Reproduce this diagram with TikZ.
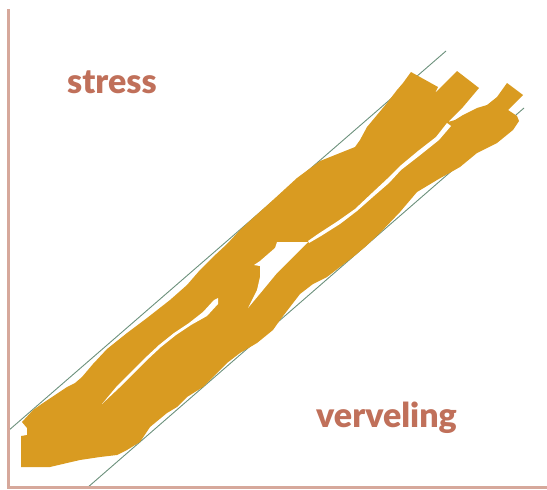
\documentclass[tikz,border=0pt]{standalone}
\usepackage{fontspec}
\setmainfont{Lato}[BoldFont={Lato Black}]
\usepackage{tikz}

\definecolor{brushgold}{RGB}{217,155,33}
\definecolor{axisrose}{RGB}{214,168,155}
\definecolor{channelgreen}{RGB}{108,145,124}
\definecolor{labelred}{RGB}{192,112,90}

\begin{document}
\begin{tikzpicture}[x=1pt,y=-1pt]

  \tikzset{axis/.style = {draw=axisrose,line width=3pt}}
  \tikzset{bound/.style = {draw=channelgreen,line width=0.9pt}}
  \tikzset{brush/.style = {fill=brushgold}}
  \tikzset{gap/.style = {fill=white}}
  \tikzset{label/.style = {text=labelred,inner sep=0pt,font=\bfseries\fontsize{34}{40}\selectfont}}
  \useasboundingbox (0,0) rectangle (547,490);
  % channel
  \coordinate (ulo) at (8,431);
  \coordinate (uhi) at (446,51);
  \coordinate (llo) at (87,488);
  \coordinate (lhi) at (524,108);
  \draw[bound] (ulo) -- (uhi);
  \draw[bound] (llo) -- (lhi);
  % axes
  \coordinate (top) at (8,9);
  \coordinate (origin) at (8,487);
  \coordinate (right) at (547,487);
  \draw[axis] (top) -- (origin) -- (right);
  % strokes
  \fill[brush] (21,467) -- (21,436) -- (27,435) -- (27,428) -- (22,422) -- (33,410) -- (43,403)
    -- (55,395) -- (67,387) -- (75,383) -- (82,377) -- (93,364) -- (107,349) -- (127,333)
    -- (147,318) -- (170,300) -- (187,285) -- (200,270) -- (213,257) -- (227,244) -- (240,230)
    -- (253,218) -- (273,200) -- (297,178) -- (320,161) -- (340,153) -- (355,147) -- (360,140)
    -- (367,127) -- (377,115) -- (387,103) -- (397,90) -- (403,83) -- (411,72)
    -- (438,87) -- (435,93) -- (457,71) -- (479,88) -- (463,107) -- (448,122)
    -- (455,120) -- (463,115) -- (477,108) -- (487,105) -- (497,97) -- (507,83)
    -- (523,95) -- (508,110) -- (517,116) -- (519,121)
    -- (513,130) -- (497,143) -- (477,153) -- (460,167) -- (437,180) -- (417,192) -- (400,212)
    -- (380,233) -- (365,247) -- (353,257) -- (340,267) -- (327,277) -- (313,284) -- (300,294)
    -- (290,307) -- (280,320) -- (273,330) -- (257,343) -- (240,353) -- (227,363) -- (213,377)
    -- (203,387) -- (187,397) -- (177,407) -- (167,413) -- (150,427) -- (140,442) -- (127,450)
    -- (117,455) -- (100,457) -- (80,460) -- (67,463) -- (50,467) -- cycle;
  % gaps between strokes
  \fill[gap] (447,123) -- (436,137) -- (418,151) -- (400,166) -- (387,179) -- (372,193)
    -- (355,209) -- (338,221) -- (318,234) -- (308,241) -- (309,243) -- (321,236) -- (340,224)
    -- (357,211) -- (374,196) -- (389,183) -- (401,170) -- (419,156) -- (439,140) -- (451,126) -- cycle;
  \fill[gap] (277,242) -- (308,242) -- (303,247) -- (290,260) -- (277,273) -- (263,290)
    -- (248,308) -- (257,290) -- (260,277) -- (260,266) -- (254,265) -- (260,261) -- (275,248) -- cycle;
  \fill[gap] (218,298) -- (218,304) -- (207,316) -- (191,325) -- (176,335) -- (161,347)
    -- (146,361) -- (133,374) -- (119,388) -- (102,404) -- (117,386) -- (131,372) -- (144,359)
    -- (159,345) -- (174,333) -- (189,323) -- (203,312) -- (214,300) -- cycle;
  % labels
  \node[label,anchor=base west] (stress) at (67,93) {stress};
  \node[label,anchor=base west] (verveling) at (316,427) {verveling};
\end{tikzpicture}
\end{document}
